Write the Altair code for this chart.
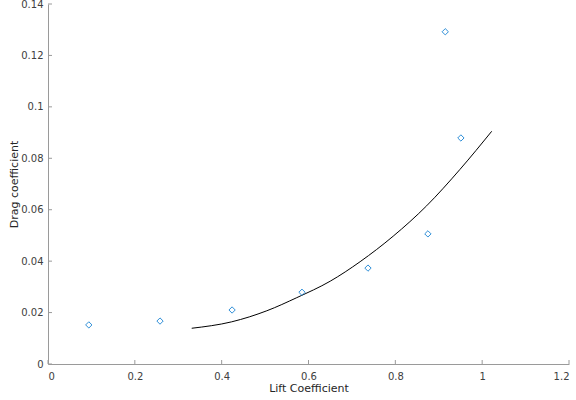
import altair as alt
import pandas as pd

# measured points
lift = [0.094, 0.258, 0.424, 0.585, 0.737, 0.875, 0.915, 0.951]
drag = [0.0152, 0.0167, 0.0210, 0.0279, 0.0373, 0.0506, 0.1292, 0.0879]

# fitted curve
fit_x = [0.331, 0.423, 0.504, 0.573, 0.650, 0.719, 0.795, 0.872, 0.949, 1.022]
fit_y = [0.0139, 0.0164, 0.0207, 0.0258, 0.0322, 0.0398, 0.0497, 0.0615, 0.0757, 0.0905]

x_ticks = [0, 0.2, 0.4, 0.6, 0.8, 1.0, 1.2]
y_ticks = [0, 0.02, 0.04, 0.06, 0.08, 0.10, 0.12, 0.14]

W, H = 521, 360
FONT = "DejaVu Sans"
AX = "#9a9a9a"
TXT = "#404040"

pts = pd.DataFrame({"x": lift, "y": drag})
fit = pd.DataFrame({"x": fit_x, "y": fit_y})
xt = pd.DataFrame({"v": x_ticks})
yt = pd.DataFrame({"v": y_ticks})

xs = alt.Scale(domain=[0, 1.2], nice=False, zero=False)
ys = alt.Scale(domain=[0, 0.14], nice=False, zero=False)

xaxis = alt.Axis(values=x_ticks, format="~g", ticks=False, grid=False,
                 domainColor=AX, domainWidth=1, labelFont=FONT, labelFontSize=10,
                 labelColor=TXT, labelPadding=7, title="Lift Coefficient",
                 titleFont=FONT, titleFontSize=11, titleFontWeight="normal",
                 titleColor="#262626", titlePadding=1)
yaxis = alt.Axis(values=y_ticks, format="~g", ticks=False, grid=False,
                 domainColor=AX, domainWidth=1, labelFont=FONT, labelFontSize=10,
                 labelColor=TXT, labelPadding=5, title="Drag coefficient",
                 titleFont=FONT, titleFontSize=11, titleFontWeight="normal",
                 titleColor="#262626", titlePadding=1)

line = alt.Chart(fit).mark_line(color="black", strokeWidth=1, interpolate="monotone").encode(
    x=alt.X("x:Q", scale=xs, axis=xaxis),
    y=alt.Y("y:Q", scale=ys, axis=yaxis),
)
points = alt.Chart(pts).mark_point(shape="diamond", filled=False, color="#2f8fd8",
                                   size=40, strokeWidth=1, opacity=1).encode(
    x=alt.X("x:Q", scale=xs),
    y=alt.Y("y:Q", scale=ys),
)
ytick = alt.Chart(yt).mark_rule(color=AX, strokeWidth=1).encode(
    y=alt.Y("v:Q", scale=ys), x=alt.value(0), x2=alt.value(4)
)
xtick = alt.Chart(xt).mark_rule(color=AX, strokeWidth=1).encode(
    x=alt.X("v:Q", scale=xs), y=alt.value(H), y2=alt.value(H - 4)
)

chart = alt.layer(line, points, ytick, xtick).properties(
    width=W, height=H,
    autosize=alt.AutoSizeParams(type="none"),
    padding={"left": 48, "top": 4, "right": 7, "bottom": 36},
    background="white",
).configure_view(stroke=None)

chart.save("out.html", embed_options={"renderer": "svg", "actions": False})
